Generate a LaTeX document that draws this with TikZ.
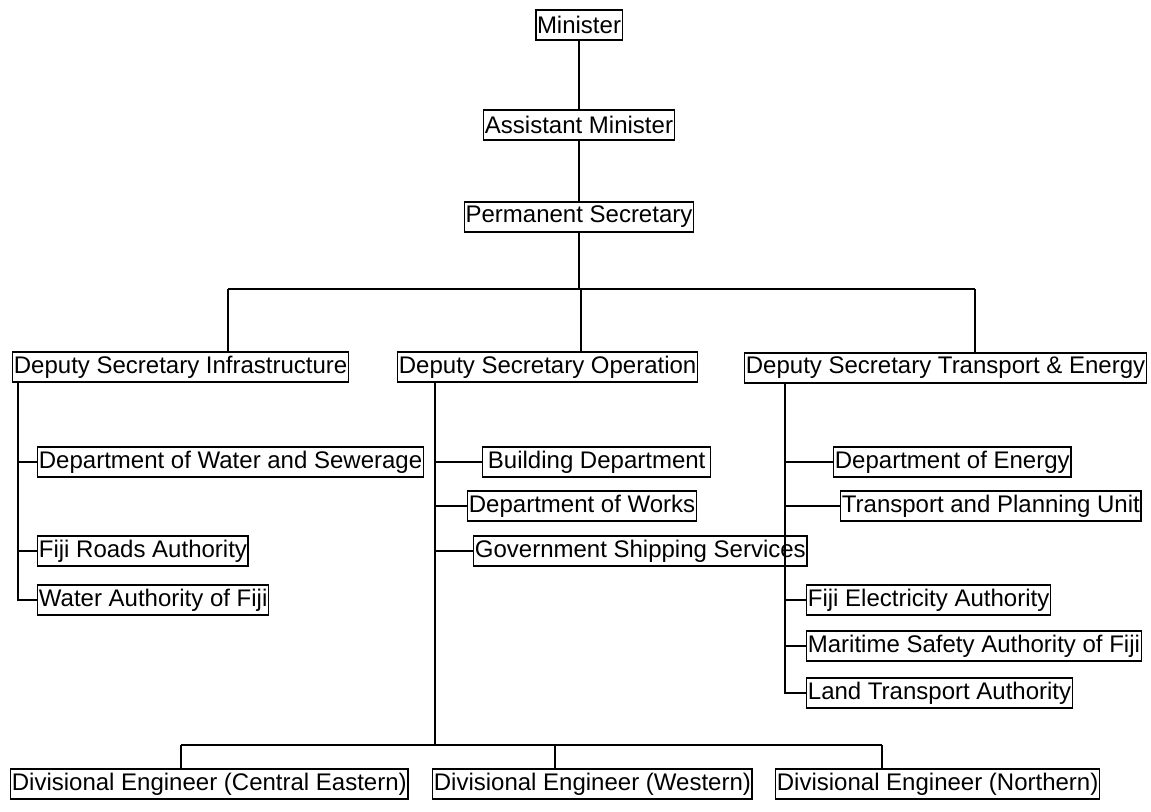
\documentclass[tikz,border=0pt]{standalone}
\usepackage{fontspec}
\setmainfont{Liberation Sans}
\usepackage{tikz}
\usetikzlibrary{calc}

\begin{document}
\begin{tikzpicture}[x=0.5pt,y=-0.5pt,line width=0.7pt,
        box/.style={draw, minimum height=15pt, inner xsep=0.6pt, inner ysep=0pt, font=\fontsize{12}{14}\selectfont},
        lbox/.style={box, anchor=west}]
            \useasboundingbox (0,0) rectangle (1151,811);
            % top of the chart
            \node (min) at (579,25) [box] {Minister};
            \node (am) at (579,125) [box] {Assistant Minister};
            \node (ps) at (579,217) [box] {Permanent Secretary};
            \draw (min) -- (am);
            \draw (am) -- (ps);
            % deputy secretaries
            \node (dsi) at (12,367) [lbox] {Deputy Secretary Infrastructure};
            \node (dso) at (397,367) [lbox] {Deputy Secretary Operation};
            \node (dst) at (744,368) [lbox] {Deputy Secretary Transport \& Energy};
            \coordinate (bi) at (228,289);
            \coordinate (bo) at (581,289);
            \coordinate (bt) at (975,289);
            \draw (ps) -- (ps.south |- bo);
            \draw (bi) -- (bt);
            \draw (bi) -- (bi |- dsi.north);
            \draw (bo) -- (bo |- dso.north);
            \draw (bt) -- (bt |- dst.north);
            % infrastructure
            \node (dws) at (37,462) [lbox] {Department of Water and Sewerage};
            \node (fra) at (37,551) [lbox] {Fiji Roads Authority};
            \node (waf) at (37,600) [lbox] {Water Authority of Fiji};
            \coordinate (ti) at (18,0);
            \draw (ti |- dsi.south) -- (ti |- waf) -- (waf.west);
            \draw (ti |- dws) -- (dws.west);
            \draw (ti |- fra) -- (fra.west);
            % operation
            \node (bd) at (482,462) [lbox, minimum width=114pt] {Building Department};
            \node (dw) at (467,506) [lbox] {Department of Works};
            \node (gss) at (473,551) [lbox] {Government Shipping Services};
            \coordinate (to) at (435,745);
            \draw (to |- dso.south) -- (to);
            \draw (to |- bd) -- (bd.west);
            \draw (to |- dw) -- (dw.west);
            \draw (to |- gss) -- (gss.west);
            % transport and energy
            \node (doe) at (833,462) [lbox] {Department of Energy};
            \node (tpu) at (840,506) [lbox] {Transport and Planning Unit};
            \node (fea) at (806,600) [lbox] {Fiji Electricity Authority};
            \node (msa) at (806,646) [lbox] {Maritime Safety Authority of Fiji};
            \node (lta) at (806,693) [lbox] {Land Transport Authority};
            \coordinate (tt) at (785,0);
            \draw (tt |- dst.south) -- (tt |- lta) -- (lta.west);
            \draw (tt |- doe) -- (doe.west);
            \draw (tt |- tpu) -- (tpu.west);
            \draw (tt |- fea) -- (fea.west);
            \draw (tt |- msa) -- (msa.west);
            % divisional engineers
            \node (dce) at (10,784) [lbox] {Divisional Engineer (Central Eastern)};
            \node (dwe) at (432,784) [lbox] {Divisional Engineer (Western)};
            \node (dno) at (775,784) [lbox] {Divisional Engineer (Northern)};
            \coordinate (ec) at (181,745);
            \coordinate (ew) at (555,745);
            \coordinate (en) at (882,745);
            \draw (ec) -- (en);
            \draw (ec) -- (ec |- dce.north);
            \draw (ew) -- (ew |- dwe.north);
            \draw (en) -- (en |- dno.north);
\end{tikzpicture}
\end{document}
